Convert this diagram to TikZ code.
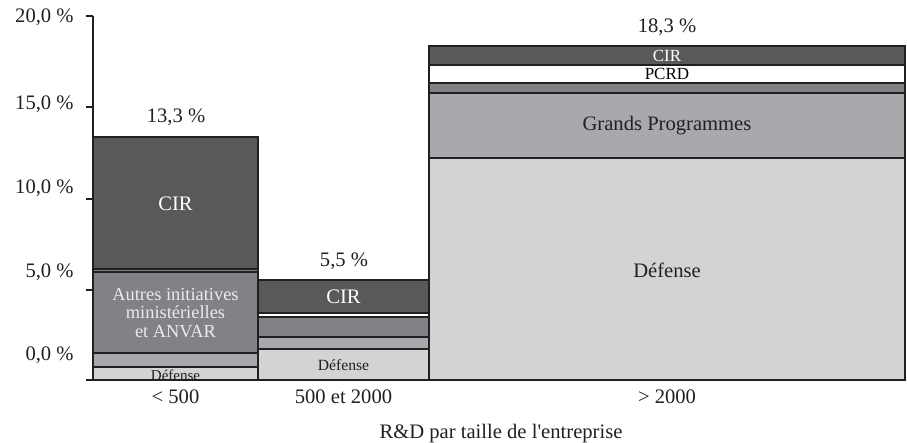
\documentclass[tikz,border=0pt]{standalone}
\usepackage{fontspec}
\setmainfont{Liberation Serif}
\usetikzlibrary{positioning}
\definecolor{cirgray}{HTML}{58595B}
\definecolor{midgray}{HTML}{808285}
\definecolor{ltgray}{HTML}{A7A9AC}
\definecolor{palegray}{HTML}{D1D3D4}
\definecolor{inkgray}{HTML}{231F20}

\begin{document}
\begin{tikzpicture}[x=0.5pt, y=-0.5pt,
  seg/.style={draw=inkgray, line width=0.6pt},
  axis/.style={draw=inkgray, line width=0.6pt},
  lbl/.style={inner sep=0pt, text=inkgray, font=\fontsize{10.3}{12}\selectfont},
  inlbl/.style={inner sep=0pt, align=center, font=\fontsize{#1}{#1}\selectfont},
  inlbl/.default=10.3
]
\useasboundingbox (0,0) rectangle (907,443);

\draw[seg, fill=palegray] (93,367) rectangle (258,380);
\draw[seg, fill=ltgray] (93,353) rectangle (258,367);
\draw[seg, fill=midgray] (93,272) rectangle (258,353);
\draw[seg, fill=midgray] (93,269) rectangle (258,272);
\draw[seg, fill=cirgray] (93,137) rectangle (258,269);

\draw[seg, fill=palegray] (258,349) rectangle (429,380);
\draw[seg, fill=ltgray] (258,337) rectangle (429,349);
\draw[seg, fill=midgray] (258,317) rectangle (429,337);
\draw[seg, fill=white] (258,313) rectangle (429,317);
\draw[seg, fill=cirgray] (258,280) rectangle (429,313);

\draw[seg, fill=palegray] (429,158) rectangle (905,380);
\draw[seg, fill=ltgray] (429,93) rectangle (905,158);
\draw[seg, fill=midgray] (429,83) rectangle (905,93);
\draw[seg, fill=white] (429,65) rectangle (905,83);
\draw[seg, fill=cirgray] (429,46) rectangle (905,65);

\node[inlbl, text=white] (cirA) at (175.5,204) {CIR};
\node[inlbl=9.2, text=white!92!black] (autresA) at (175.5,313)
  {Autres initiatives\\ministérielles\\et ANVAR};
\node[inlbl=7.5, text=inkgray] (defA) at (175.5,375) {Défense};

\node[inlbl, text=white] (cirB) at (343.5,297) {CIR};
\node[inlbl=7.8, text=inkgray] (defB) at (343.5,365) {Défense};

\node[inlbl=8.5, text=white] (cirC) at (667,56) {CIR};
\node[inlbl=8.5, text=black] (pcrdC) at (667,74) {PCRD};
\node[inlbl, text=inkgray] (gpC) at (667,126) {Grands Programmes};
\node[inlbl, text=inkgray] (defC) at (667,270) {Défense};

\node[lbl] (totA) at (176,117) {13,3 \%};
\node[lbl] (totB) at (344,261) {5,5 \%};
\node[lbl] (totC) at (667,27) {18,3 \%};

\draw[axis] (93,16) -- (93,380);
\draw[axis] (86,380) -- (906,380);
\foreach \y in {16,107,199,290}
  \draw[axis] (86,\y) -- (93,\y);

\node[lbl, anchor=east] (y20) at (74,17) {20,0 \%};
\node[lbl, anchor=east] (y15) at (74,104) {15,0 \%};
\node[lbl, anchor=east] (y10) at (74,188) {10,0 \%};
\node[lbl, anchor=east] (y05) at (74,272) {5,0 \%};
\node[lbl, anchor=east] (y00) at (74,355) {0,0 \%};

\node[lbl] (catA) at (175.5,397) {< 500};
\node[lbl] (catB) at (343.5,397) {500 et 2000};
\node[lbl] (catC) at (667,397) {> 2000};
\node[lbl] (xtitle) at (501,434) {R\&D par taille de l\textquotesingle entreprise};
\end{tikzpicture}
\end{document}
